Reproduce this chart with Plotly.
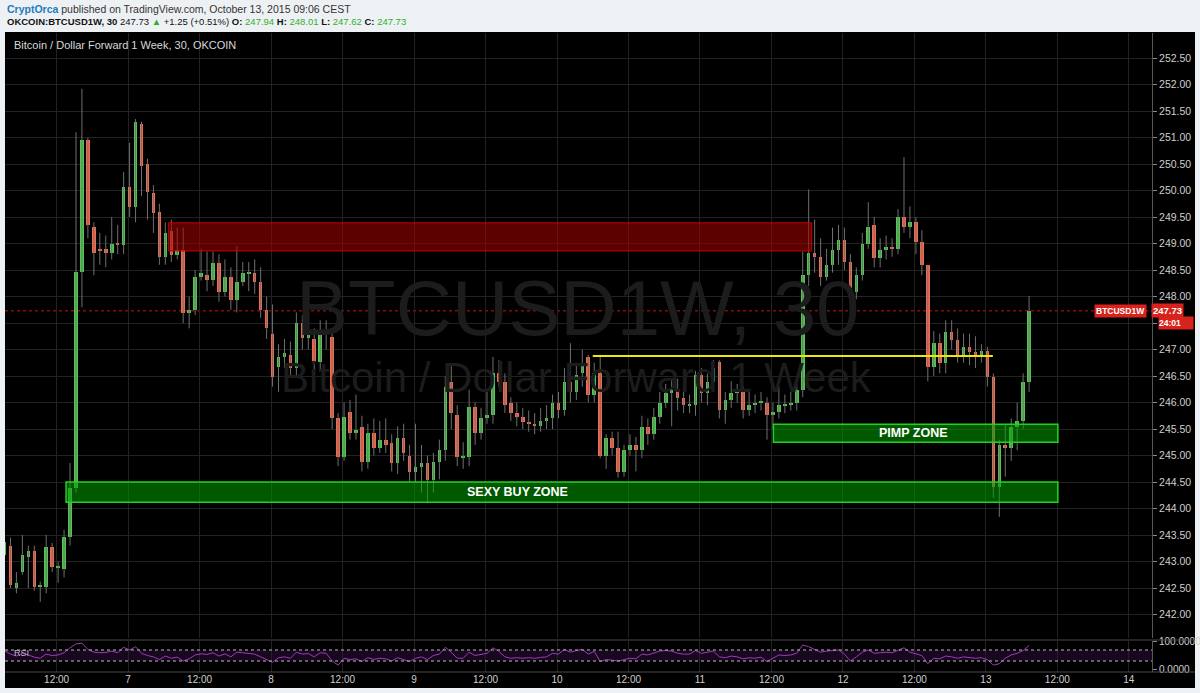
import pandas as pd
import plotly.graph_objects as go

# hourly OHLC, first bar at Oct 6 03:00 UTC
start = "2015-10-06 03:15"

opens = [
    243.12, 243.30, 242.50, 242.80, 243.08, 243.20, 242.52, 242.52, 243.27, 242.88,
    242.86, 243.46, 244.39, 248.46, 250.95, 249.31, 248.90, 248.90, 248.82, 249.00,
    248.97, 250.07, 249.69, 251.25, 250.50, 249.95, 249.60, 248.74, 249.23, 248.78,
    248.88, 247.69, 247.75, 248.37, 248.40, 248.31, 248.63, 248.08, 248.37, 247.93,
    248.27, 248.44, 248.44, 248.27, 247.75, 247.30, 246.67, 246.86, 246.90, 246.65,
    247.50, 247.22, 247.20, 246.76, 247.33, 247.24, 245.71, 244.97, 245.82, 245.42,
    245.53, 244.88, 245.42, 245.14, 245.29, 245.24, 244.86, 245.33, 245.00, 244.69,
    244.78, 244.86, 244.54, 244.88, 245.10, 246.39, 245.76, 244.97, 244.97, 245.92,
    245.42, 245.71, 245.76, 246.56, 246.39, 245.99, 245.80, 245.73, 245.63, 245.60,
    245.55, 245.65, 245.70, 245.99, 245.86, 246.39, 246.20, 246.56, 246.86, 246.14,
    246.56, 245.00, 245.33, 245.14, 244.69, 245.10, 245.20, 245.10, 245.54, 245.40,
    245.73, 245.99, 246.18, 246.24, 246.08, 245.95, 245.95, 246.52, 246.18, 246.39,
    246.76, 245.86, 246.05, 246.18, 246.20, 245.86, 245.95, 246.00, 246.00, 245.76,
    245.82, 245.95, 245.95, 245.99, 246.24, 248.40, 248.82, 248.75, 248.37, 248.60,
    248.88, 249.07, 248.65, 248.08, 248.40, 249.00, 249.35, 248.73, 248.88, 248.93,
    248.90, 249.50, 249.31, 249.40, 249.03, 248.60, 246.67, 247.12, 246.74, 247.33,
    247.18, 246.90, 247.05, 246.95, 246.90, 246.97, 246.48, 244.40, 245.20, 245.14,
    245.54, 245.65, 246.39,
]
highs = [
    243.63, 243.45, 242.80, 243.50, 243.30, 243.30, 242.62, 243.50, 243.35, 243.00,
    243.60, 244.86, 251.10, 251.92, 251.00, 249.40, 249.20, 249.15, 249.50, 249.35,
    250.35, 250.90, 251.35, 251.30, 250.60, 250.10, 249.75, 249.40, 249.45, 249.30,
    249.30, 248.00, 248.50, 248.90, 248.85, 248.85, 248.80, 248.70, 248.55, 248.95,
    248.65, 248.65, 248.70, 248.55, 248.00, 247.85, 247.10, 247.20, 247.15, 247.70,
    247.65, 247.55, 247.40, 247.55, 247.55, 247.30, 245.80, 246.00, 246.05, 246.15,
    245.75, 245.60, 245.70, 245.65, 245.70, 245.40, 245.55, 245.60, 245.20, 245.60,
    245.20, 245.00, 245.05, 245.30, 246.50, 246.72, 245.95, 245.25, 246.24, 246.00,
    245.90, 246.20, 246.86, 246.80, 246.55, 246.10, 246.00, 245.90, 245.85, 245.80,
    245.90, 245.95, 246.15, 246.20, 246.65, 247.12, 246.75, 247.00, 246.90, 246.75,
    246.90, 245.40, 245.45, 245.45, 245.20, 245.40, 245.35, 245.75, 245.70, 245.90,
    246.20, 246.35, 246.45, 246.45, 246.25, 246.15, 246.60, 246.65, 246.55, 246.80,
    246.80, 246.20, 246.40, 246.35, 246.30, 246.20, 246.15, 246.20, 246.10, 246.00,
    246.30, 246.15, 246.20, 246.35, 248.85, 250.02, 249.45, 249.10, 248.90, 249.30,
    249.35, 249.30, 248.80, 248.55, 249.20, 249.78, 249.50, 249.10, 249.15, 249.10,
    249.65, 250.63, 249.70, 249.50, 249.25, 248.60, 247.35, 247.30, 247.55, 247.55,
    247.40, 247.30, 247.30, 247.25, 247.10, 247.05, 246.55, 245.30, 245.60, 245.70,
    246.00, 246.55, 248.01,
]
lows = [
    243.03, 242.50, 242.40, 242.75, 242.50, 242.45, 242.24, 242.40, 242.80, 242.60,
    242.70, 243.30, 244.30, 247.80, 249.10, 248.40, 248.60, 248.55, 248.70, 248.80,
    248.80, 249.50, 249.40, 249.90, 249.45, 249.20, 248.60, 248.60, 248.65, 248.70,
    247.50, 247.40, 247.65, 248.30, 248.10, 248.20, 247.90, 248.00, 247.75, 247.70,
    248.20, 248.10, 248.05, 247.60, 247.20, 246.30, 246.20, 246.65, 246.50, 246.50,
    247.00, 247.00, 246.55, 246.60, 247.00, 245.50, 244.80, 244.90, 245.30, 245.30,
    244.70, 244.75, 245.00, 245.05, 245.05, 244.70, 244.65, 244.90, 244.50, 244.50,
    244.30, 244.10, 244.30, 244.55, 244.90, 245.50, 244.80, 244.75, 244.80, 245.20,
    245.30, 245.60, 245.60, 246.30, 245.80, 245.65, 245.55, 245.50, 245.45, 245.40,
    245.45, 245.50, 245.50, 245.70, 245.75, 246.00, 246.05, 246.30, 246.00, 246.00,
    244.95, 244.75, 245.00, 244.58, 244.60, 245.00, 244.70, 244.95, 245.20, 245.30,
    245.60, 245.90, 245.55, 245.85, 245.80, 245.80, 245.75, 246.00, 245.95, 246.20,
    245.70, 245.60, 245.90, 246.00, 245.70, 245.75, 245.80, 245.85, 245.30, 245.50,
    245.70, 245.80, 245.85, 245.85, 246.10, 248.20, 248.45, 248.20, 248.30, 248.45,
    248.60, 248.50, 247.78, 247.95, 248.30, 248.90, 248.55, 248.55, 248.70, 248.75,
    248.80, 249.20, 249.10, 248.80, 248.40, 246.40, 246.50, 246.55, 246.55, 247.00,
    246.75, 246.75, 246.70, 246.65, 246.75, 246.30, 244.20, 243.84, 244.60, 244.90,
    245.10, 245.50, 246.20,
]
closes = [
    243.37, 242.56, 242.60, 243.12, 243.20, 242.52, 242.52, 243.27, 242.90, 242.88,
    243.46, 244.39, 248.46, 250.95, 249.35, 248.82, 248.86, 248.82, 249.00, 248.99,
    250.07, 249.69, 251.29, 250.46, 249.97, 249.58, 248.74, 249.20, 248.78, 248.88,
    247.69, 247.75, 248.37, 248.44, 248.31, 248.63, 248.08, 248.37, 247.93, 248.27,
    248.44, 248.44, 248.27, 247.75, 247.40, 246.48, 246.86, 246.93, 246.65, 247.50,
    247.22, 247.37, 246.76, 247.31, 247.31, 245.71, 244.97, 245.73, 245.42, 245.48,
    244.88, 245.42, 245.14, 245.29, 245.20, 244.86, 245.33, 245.05, 244.69, 244.78,
    244.86, 244.54, 244.88, 245.10, 246.29, 245.80, 244.97, 244.97, 245.92, 245.42,
    245.71, 245.76, 246.56, 246.39, 245.95, 245.80, 245.73, 245.63, 245.60, 245.55,
    245.65, 245.70, 245.99, 245.86, 246.39, 246.20, 246.52, 246.71, 246.14, 246.56,
    245.00, 245.33, 245.14, 244.69, 245.10, 245.20, 245.10, 245.54, 245.40, 245.73,
    245.99, 246.18, 246.24, 246.08, 245.95, 245.95, 246.52, 246.18, 246.39, 246.65,
    245.86, 246.05, 246.18, 246.20, 245.86, 245.95, 246.00, 246.00, 245.76, 245.82,
    245.95, 245.95, 245.99, 246.24, 248.40, 248.82, 248.75, 248.37, 248.60, 248.88,
    249.07, 248.65, 248.08, 248.40, 249.00, 249.31, 248.73, 248.88, 248.93, 248.90,
    249.50, 249.31, 249.40, 249.03, 248.60, 246.67, 247.12, 246.74, 247.33, 247.18,
    246.90, 247.05, 246.95, 246.90, 246.97, 246.48, 244.40, 245.20, 245.14, 245.54,
    245.65, 246.39, 247.73,
]
rsi = [
    68, 55, 48, 58, 52, 44, 40, 55,
    50, 52, 60, 78,
    92, 95, 72,
    62, 60, 61, 66, 60, 80,
    70, 82, 58, 50, 45, 35,
    48, 40, 44, 30, 38, 52,
    56, 54, 60, 48, 56, 45,
    62, 60, 58, 55, 45, 35,
    25, 42, 45, 40, 62, 55,
    57, 45, 60, 58, 30, 15,
    40, 35, 38, 28, 42, 36,
    40, 38, 30, 42, 35, 28,
    40, 45, 35, 50, 55, 80,
    62, 40, 40, 62, 50, 55,
    58, 78, 65, 45, 40, 42,
    40, 42, 40, 43, 45, 58,
    55, 72, 62, 68, 72, 55,
    65, 28, 35, 33, 30, 35,
    40, 38, 55, 52, 60, 66,
    68, 66, 58, 55, 55, 68,
    58, 62, 66, 45, 42, 48,
    45, 38, 42, 40, 44, 28,
    40, 52, 50, 52, 58, 88,
    82, 72, 62, 66, 68, 70,
    55, 30, 45, 62, 70, 58,
    60, 62, 60, 70, 78, 62,
    55, 50, 20, 40, 38, 48,
    45, 40, 45, 42, 40, 42,
    35, 15, 20, 40, 52, 58,
    68, 86,
]

last_price = 247.73
red_zone = (248.86, 249.39, "2015-10-07 06:45", "2015-10-11 18:45")
buy_zone = (244.12, 244.50, "2015-10-06 13:35", "2015-10-13 12:05")
pimp_zone = (245.25, 245.59, "2015-10-11 12:20", "2015-10-13 12:05")
yellow_level = (246.88, "2015-10-10 06:00", "2015-10-13 01:10")

UP = "#4fc84f"
DOWN = "#f2694c"
FONT = "Liberation Sans"

times = pd.date_range(start, periods=len(closes), freq="h")

bases = [min(o, c) for o, c in zip(opens, closes)]
bodies = [max(abs(c - o), 0.02) for o, c in zip(opens, closes)]
colors = [UP if c >= o else DOWN for o, c in zip(opens, closes)]

wick_x, wick_y = [], []
for t, h, l in zip(times, highs, lows):
    wick_x += [t, t, None]
    wick_y += [l, h, None]

tick_vals = pd.date_range("2015-10-06 12:00", "2015-10-14 00:00", freq="12h")
tick_text = ["12:00" if t.hour == 12 else str(t.day) for t in tick_vals]

fig = go.Figure()
fig.add_trace(go.Scatter(x=wick_x, y=wick_y, mode="lines",
                         line=dict(color="#6f6f6f", width=1), yaxis="y", hoverinfo="skip"))
fig.add_trace(go.Bar(x=times, y=bodies, base=bases, marker=dict(color=colors, line=dict(width=0)),
                     width=36 * 60 * 1000, yaxis="y"))
fig.add_trace(go.Scatter(x=times, y=rsi, mode="lines", line=dict(color="#a03ab8", width=1),
                         yaxis="y2"))

# pixel helpers -> paper coords (plot area x 5..1152, y 33..672)
def px(x):
    return (x - 5) / 1147

def py(y):
    return (672 - y) / 639

shapes = [
    dict(type="rect", xref="paper", yref="paper", x0=px(5), x1=px(1195), y0=py(688), y1=py(32),
         fillcolor="#000000", line=dict(width=0), layer="below"),
    dict(type="line", xref="paper", yref="paper", x0=px(5), x1=px(1195), y0=py(640), y1=py(640),
         line=dict(color="#4a4a4a", width=1)),
    dict(type="line", xref="paper", yref="paper", x0=px(5), x1=px(1195), y0=py(672), y1=py(672),
         line=dict(color="#4a4a4a", width=1)),
    # RSI band
    dict(type="rect", xref="paper", yref="y2", x0=0, x1=1, y0=30, y1=70,
         fillcolor="#170820", line=dict(width=0), layer="below"),
    dict(type="line", xref="paper", yref="y2", x0=0, x1=1, y0=70, y1=70,
         line=dict(color="#bbbbbb", width=1, dash="dot")),
    dict(type="line", xref="paper", yref="y2", x0=0, x1=1, y0=30, y1=30,
         line=dict(color="#bbbbbb", width=1, dash="dot")),
    # last price
    dict(type="line", xref="paper", yref="y", x0=0, x1=1, y0=last_price, y1=last_price,
         line=dict(color="#c81414", width=1, dash="dot"), layer="below"),
]
for lo, hi, x0, x1 in [red_zone]:
    shapes.append(dict(type="rect", xref="x", yref="y", x0=x0, x1=x1, y0=lo, y1=hi,
                       fillcolor="rgba(170,0,0,0.55)", line=dict(color="#c80000", width=1),
                       layer="above"))
for lo, hi, x0, x1 in [buy_zone, pimp_zone]:
    shapes.append(dict(type="rect", xref="x", yref="y", x0=x0, x1=x1, y0=lo, y1=hi,
                       fillcolor="rgba(0,160,0,0.55)", line=dict(color="#22d022", width=1.5),
                       layer="above"))
shapes.append(dict(type="line", xref="x", yref="y", x0=yellow_level[1], x1=yellow_level[2],
                   y0=yellow_level[0], y1=yellow_level[0],
                   line=dict(color="#f0e800", width=2), layer="above"))

green = "#2eae2e"
header2 = ("<b>OKCOIN:BTCUSD1W, 30</b> 247.73 <span style='color:%s'>▲</span> +1.25 (+0.51%%) "
           "<b>O:</b> <span style='color:%s'>247.94</span> <b>H:</b> <span style='color:%s'>248.01</span> "
           "<b>L:</b> <span style='color:%s'>247.62</span> <b>C:</b> <span style='color:%s'>247.73</span>"
           % (green, green, green, green, green))

annotations = [
    dict(xref="paper", yref="paper", x=px(5), y=py(9), xanchor="left", yanchor="middle",
         text="<b style='color:#1f7cc0'>CryptOrca</b> published on TradingView.com, October 13, 2015 09:06 CEST",
         showarrow=False, font=dict(family=FONT, size=10.5, color="#333333")),
    dict(xref="paper", yref="paper", x=px(5), y=py(22), xanchor="left", yanchor="middle",
         text=header2, showarrow=False, font=dict(family=FONT, size=9.5, color="#111111")),
    dict(xref="paper", yref="paper", x=px(12), y=py(45), xanchor="left", yanchor="middle",
         text="Bitcoin / Dollar Forward 1 Week, 30, OKCOIN", showarrow=False,
         font=dict(family=FONT, size=11, color="#d8d8d8")),
    dict(xref="paper", yref="paper", x=px(577), y=py(308), xanchor="center", yanchor="middle",
         text="BTCUSD1W, 30", showarrow=False, font=dict(family=FONT, size=78, color="#1c1c1c")),
    dict(xref="paper", yref="paper", x=px(576), y=py(377), xanchor="center", yanchor="middle",
         text="Bitcoin / Dollar Forward 1 Week", showarrow=False,
         font=dict(family=FONT, size=42, color="#1c1c1c")),
    dict(xref="x", yref="y", x="2015-10-09 17:20", y=(buy_zone[0] + buy_zone[1]) / 2,
         text="<b>SEXY BUY ZONE</b>", showarrow=False, font=dict(family=FONT, size=12.5, color="white")),
    dict(xref="x", yref="y", x="2015-10-12 11:50", y=(pimp_zone[0] + pimp_zone[1]) / 2,
         text="<b>PIMP ZONE</b>", showarrow=False, font=dict(family=FONT, size=12.5, color="white")),
    dict(xref="paper", yref="paper", x=px(12), y=py(653), xanchor="left", yanchor="middle",
         text="RSI", showarrow=False, font=dict(family=FONT, size=9, color="#bbbbbb")),
    dict(xref="paper", yref="y", x=px(1147), y=last_price, xanchor="right", yanchor="middle",
         text="<b>BTCUSD1W</b>", showarrow=False, bgcolor="#d8231c", borderpad=1,
         font=dict(family=FONT, size=8.5, color="white")),
    dict(xref="paper", yref="y", x=px(1151), y=last_price, xanchor="left", yanchor="middle",
         text="<b>247.73</b>", showarrow=False, bgcolor="#d8231c", borderpad=1,
         font=dict(family=FONT, size=9.5, color="white")),
    dict(xref="paper", yref="paper", x=px(1158), y=py(323), xanchor="left", yanchor="middle",
         text="<b>24:01</b>", showarrow=False, bgcolor="#d8231c", borderpad=0,
         width=34, height=12, align="left",
         font=dict(family=FONT, size=8.5, color="white")),
]

fig.update_layout(
    width=1200, height=693,
    margin=dict(l=5, r=48, t=33, b=21, autoexpand=False),
    paper_bgcolor="#eef1f3", plot_bgcolor="#000000",
    showlegend=False, bargap=0,
    font=dict(family=FONT, size=10, color="#cccccc"),
    shapes=shapes, annotations=annotations,
    xaxis=dict(anchor="y2", range=["2015-10-06 03:20", "2015-10-14 03:53"], automargin=False,
               tickmode="array", tickvals=list(tick_vals), ticktext=tick_text,
               showgrid=True, gridcolor="#222222", gridwidth=1, zeroline=False,
               showline=False, ticks="", tickfont=dict(color="#cfcfcf", size=10)),
    yaxis=dict(domain=[py(638), 1], range=[241.557, 252.972], side="right", anchor="x",
               automargin=False,
               tick0=241.5, dtick=0.5, tickformat=".2f", showgrid=True, gridcolor="#222222",
               zeroline=False, showline=True, linecolor="#555555", ticks="outside", ticklen=4,
               tickcolor="#888888", tickfont=dict(color="#cfcfcf", size=10.5)),
    yaxis2=dict(domain=[0, py(641)], range=[-10, 102.7], side="right", anchor="x",
                automargin=False,
                tickmode="array", tickvals=[0, 100], ticktext=["0.0000", "100.0000"],
                showgrid=False, zeroline=False, showline=True, linecolor="#555555",
                ticks="outside", ticklen=4, tickcolor="#888888",
                tickfont=dict(color="#cfcfcf", size=10)),
)

fig.write_html("out.html", config={"displayModeBar": False},
               post_script="document.body.style.margin='0';document.body.style.background='#eef1f3';")
